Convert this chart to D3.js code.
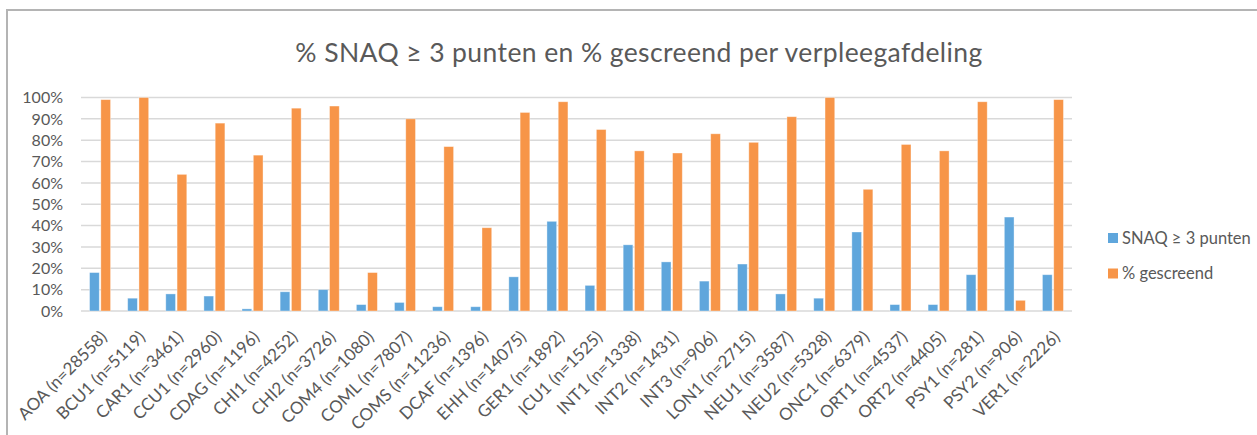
<!DOCTYPE html>
<html>
<head>
<meta charset="utf-8">
<script src="https://cdn.jsdelivr.net/npm/d3@7"></script>
<style>
  body { margin: 0; background: #fff; }
  svg text { font-family: Lato, "Open Sans", sans-serif; fill: #595959; }
</style>
</head>
<body>
<div id="chart"></div>
<script>
(function () {
  const wards = ["AOA", "BCU1", "CAR1", "CCU1", "CDAG", "CHI1", "CHI2", "COM4", "COML", "COMS", "DCAF", "EHH", "GER1",
    "ICU1", "INT1", "INT2", "INT3", "LON1", "NEU1", "NEU2", "ONC1", "ORT1", "ORT2", "PSY1", "PSY2", "VER1"];
  const counts = [28558, 5119, 3461, 2960, 1196, 4252, 3726, 1080, 7807, 11236, 1396, 14075, 1892,
    1525, 1338, 1431, 906, 2715, 3587, 5328, 6379, 4537, 4405, 281, 906, 2226];
  const snaq = [18, 6, 8, 7, 1, 9, 10, 3, 4, 2, 2, 16, 42, 12, 31, 23, 14, 22, 8, 6, 37, 3, 3, 17, 44, 17];
  const screened = [99, 100, 64, 88, 73, 95, 96, 18, 90, 77, 39, 93, 98, 85, 75, 74, 83, 79, 91, 100, 57, 78, 75, 98, 5, 99];
  const seriesNames = ["SNAQ ≥ 3 punten", "% gescreend"];
  const colors = ["#5fa6dc", "#f79548"];
  const yTicks = [0, 10, 20, 30, 40, 50, 60, 70, 80, 90, 100];

  const w = 1257;
  const h = 435;
  const left = 81, right = 1072, top = 97.5, bottom = 311;

  const labels = wards.map((d, i) => `${d} (n=${counts[i]})`);
  const rows = labels.map((d, i) => ({ label: d, values: [snaq[i], screened[i]] }));

  const svg = d3.select("#chart").append("svg")
    .attr("width", w)
    .attr("height", h);

  // outer frame (cut off on the right and bottom)
  svg.append("rect")
    .attr("x", 7).attr("y", 10)
    .attr("width", w + 20).attr("height", h + 20)
    .attr("fill", "none")
    .attr("stroke", "#b4b4b4")
    .attr("stroke-width", 2);

  svg.append("text")
    .attr("x", 639).attr("y", 61.5)
    .attr("text-anchor", "middle")
    .style("font-size", "26.5px")
    .style("letter-spacing", "0.4px")
    .text("% SNAQ ≥ 3 punten en % gescreend per verpleegafdeling");

  const x0 = d3.scaleBand().domain(labels).range([left, right]);
  const groupW = 21;
  const x1 = d3.scaleBand().domain([0, 1]).range([0, groupW]).paddingInner(0.14);
  const y = d3.scaleLinear().domain([0, 100]).range([bottom, top]);

  // gridlines
  svg.append("g").selectAll("line")
    .data(yTicks)
    .enter().append("line")
    .attr("x1", left).attr("x2", right)
    .attr("y1", (d) => y(d)).attr("y2", (d) => y(d))
    .attr("stroke", "#d9d9d9")
    .attr("stroke-width", 1.5);

  // y labels
  svg.append("g").selectAll("text")
    .data(yTicks)
    .enter().append("text")
    .attr("x", 63)
    .attr("y", (d) => y(d))
    .attr("dy", "0.36em")
    .attr("text-anchor", "end")
    .style("font-size", "16px")
    .text((d) => d + "%");

  // bars
  const groups = svg.append("g").selectAll("g")
    .data(rows)
    .enter().append("g")
    .attr("transform", (d) => `translate(${x0(d.label) + (x0.bandwidth() - groupW) / 2}, 0)`);

  groups.selectAll("rect")
    .data((d) => d.values.map((v, k) => ({ k: k, v: v })))
    .enter().append("rect")
    .attr("x", (d) => x1(d.k))
    .attr("width", x1.bandwidth())
    .attr("y", (d) => y(d.v))
    .attr("height", (d) => y(0) - y(d.v))
    .attr("fill", (d) => colors[d.k])
    .attr("stroke", "#fff")
    .attr("stroke-opacity", 0.45)
    .attr("stroke-width", 0.8);

  // x labels
  svg.append("g").selectAll("text")
    .data(labels)
    .enter().append("text")
    .attr("text-anchor", "end")
    .attr("transform", (d) => `translate(${x0(d) + x0.bandwidth() / 2 + 8}, ${bottom + 27}) rotate(-45)`)
    .style("font-size", "17px")
    .text((d) => d);

  // legend
  const legend = svg.append("g").selectAll("g")
    .data(seriesNames)
    .enter().append("g")
    .attr("transform", (d, i) => `translate(1108, ${233 + i * 35.5})`);

  legend.append("rect")
    .attr("width", 10).attr("height", 10)
    .attr("fill", (d, i) => colors[i]);

  legend.append("text")
    .attr("x", 14).attr("y", 5)
    .attr("dy", "0.36em")
    .style("font-size", "16.5px")
    .text((d) => d);
})();
</script>
</body>
</html>
